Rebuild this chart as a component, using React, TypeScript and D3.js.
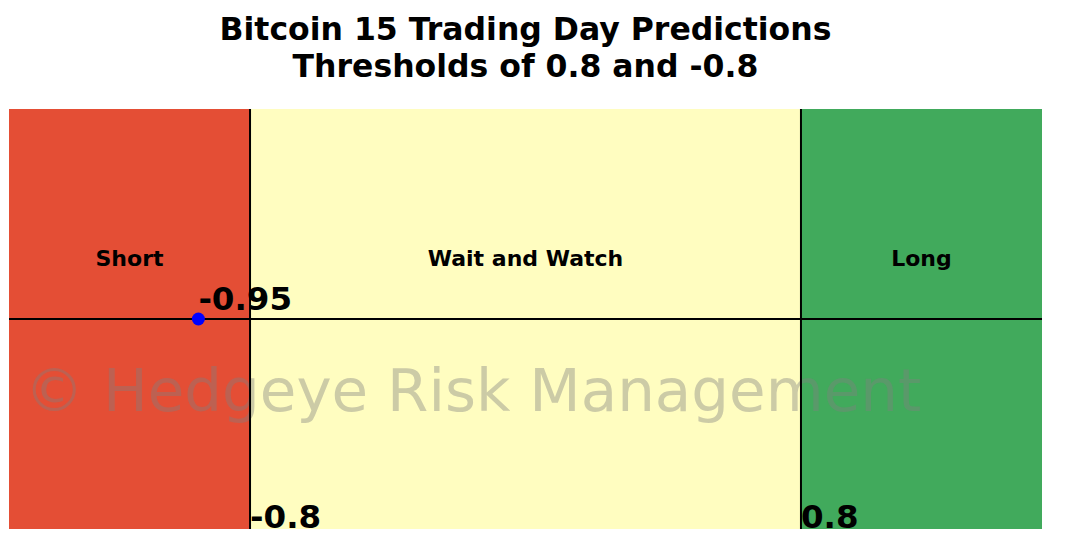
import React from "react";
import * as d3 from "d3";

const zones = [
  { name: "Short", from: -1.5, to: -0.8, color: "#e44e35" },
  { name: "Wait and Watch", from: -0.8, to: 0.8, color: "#fffdc0" },
  { name: "Long", from: 0.8, to: 1.5, color: "#41aa5c" },
];
const thresholds = [-0.8, 0.8];
const prediction = -0.95;
const titleLines = ["Bitcoin 15 Trading Day Predictions", "Thresholds of 0.8 and -0.8"];
const watermark = "© Hedgeye Risk Management";

export default function App() {
  const W = 1076, H = 539;
  const left = 9, right = 1042, top = 109, bottom = 529;
  const x = d3.scaleLinear().domain([-1.5, 1.5]).range([left, right]);
  const y = d3.scaleLinear().domain([-1, 1]).range([bottom, top]);
  const font = "DejaVu Sans, sans-serif";
  return (
    <svg width={W} height={H} style={{ position: "absolute", left: 0, top: 0 }} fontFamily={font}>
      <rect x={0} y={0} width={W} height={H} fill="#fff" />
      {titleLines.map((t, i) => (
        <text key={i} x={x(0)} y={40 + i * 36.7} textAnchor="middle" fontWeight="bold" fontSize={31.5}>{t}</text>
      ))}
      {zones.map((z) => (
        <rect key={z.name} x={x(z.from)} y={top} width={x(z.to) - x(z.from)} height={bottom - top} fill={z.color} />
      ))}
      {zones.map((z) => (
        <text key={z.name + "l"} x={x((z.from + z.to) / 2)} y={265.8} textAnchor="middle" fontWeight="bold" fontSize={22}>{z.name}</text>
      ))}
      <text x={x(-1.455)} y={411} fontSize={59.5} fill="#808080" fillOpacity={0.4}>{watermark}</text>
      <line x1={left} x2={right} y1={y(0)} y2={y(0)} stroke="#000" strokeWidth={2} />
      {thresholds.map((t) => (
        <line key={t} x1={x(t)} x2={x(t)} y1={top} y2={bottom} stroke="#000" strokeWidth={2} />
      ))}
      {thresholds.map((t) => (
        <text key={t + "t"} x={x(t)} y={528} fontWeight="bold" fontSize={32.5}>{String(t)}</text>
      ))}
      <circle cx={x(prediction)} cy={y(0)} r={6.5} fill="#0000ff" />
      <text x={x(prediction)} y={310} fontWeight="bold" fontSize={32.5}>{String(prediction)}</text>
    </svg>
  );
}
